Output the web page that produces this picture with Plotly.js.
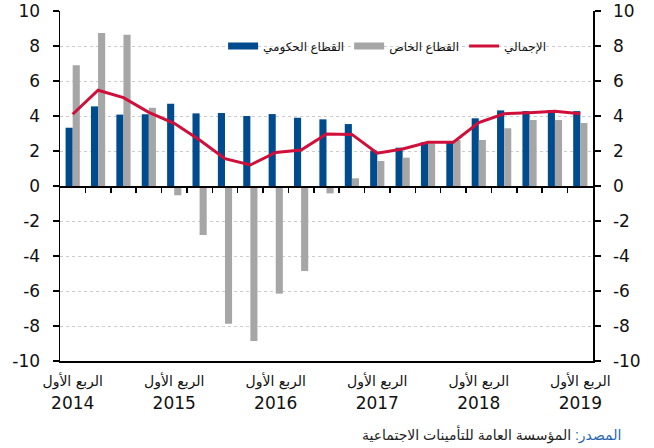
<!DOCTYPE html>
<html>
<head>
<meta charset="utf-8">
<script src="https://cdn.plot.ly/plotly-3.0.1.min.js"></script>
<style>
  html, body { margin: 0; padding: 0; background: #fff; }
  #chart { width: 654px; height: 448px; }
</style>
</head>
<body>
<div id="chart"></div>
<script>
// ---- data ----
const years = ["2014", "2015", "2016", "2017", "2018", "2019"];
const quarterNames = ["الربع الأول", "الربع الثاني", "الربع الثالث", "الربع الرابع"];
const quarters = [];
years.forEach(function (y, yi) {
  quarterNames.forEach(function (q, qi) {
    if (yi < years.length - 1 || qi === 0) quarters.push(q + " " + y);
  });
});
const government = [3.33, 4.55, 4.08, 4.10, 4.70, 4.15, 4.17, 4.00, 4.11, 3.90, 3.81, 3.54,
                    2.02, 2.19, 2.50, 2.50, 3.87, 4.32, 4.28, 4.34, 4.28];
const privateSector = [6.90, 8.74, 8.65, 4.47, -0.53, -2.80, -7.87, -8.86, -6.15, -4.86, -0.42, 0.44,
                       1.43, 1.62, 2.44, 2.63, 2.63, 3.30, 3.77, 3.77, 3.60];
const total = [4.10, 5.47, 5.05, 4.21, 3.58, 2.63, 1.56, 1.20, 1.92, 2.06, 2.97, 2.95,
               1.87, 2.11, 2.50, 2.50, 3.62, 4.13, 4.19, 4.27, 4.13];
const seriesNames = ["القطاع الحكومي", "القطاع الخاص", "الإجمالي"];
const yTickVals = [-10, -8, -6, -4, -2, 0, 2, 4, 6, 8, 10];
const yTickText = ["-10", "-8", "-6", "-4", "-2", "0", "2", "4", "6", "8", "10"];
const sourceLabel = "المصدر:";
const sourceText = "المؤسسة العامة للتأمينات الاجتماعية";

// ---- styles ----
const BLUE = "#004b8d", GRAY = "#a6a6a6", RED = "#d0103a";
const NUMFONT = "DejaVu Sans, Liberation Sans, Arial, sans-serif";
const TXTFONT = "Liberation Sans, Arial, DejaVu Sans, sans-serif";

const tickVals = quarters.filter(function (q) { return q.indexOf(quarterNames[0]) === 0; });
const tickText = tickVals.map(function (q) {
  const y = q.slice(quarterNames[0].length + 1);
  return "<span style='font-size:14px'>" + quarterNames[0] + "</span><br>" + y;
});
const boundaries = quarters.slice(1).map(function (_, i) { return i + 0.5; });

const traces = [
  { type: "bar", name: seriesNames[0], x: quarters, y: government,
    marker: { color: BLUE }, showlegend: false, hoverinfo: "skip" },
  { type: "bar", name: seriesNames[1], x: quarters, y: privateSector,
    marker: { color: GRAY }, showlegend: false, hoverinfo: "skip" },
  // legend keys (no data); also bind the overlay axes so they are drawn
  { type: "scatter", mode: "lines", name: seriesNames[0], x: [null], y: [null],
    xaxis: "x2", yaxis: "y", line: { color: BLUE, width: 7 } },
  { type: "scatter", mode: "lines", name: seriesNames[1], x: [null], y: [null],
    xaxis: "x", yaxis: "y2", line: { color: GRAY, width: 7 } },
  { type: "scatter", mode: "lines", name: seriesNames[2], x: quarters, y: total,
    line: { color: RED, width: 3 }, hoverinfo: "skip" }
];

const yCommon = {
  range: [-10, 10], tickmode: "array", tickvals: yTickVals, ticktext: yTickText,
  ticks: "outside", ticklen: 6, tickwidth: 1.5, tickcolor: "#000",
  showline: true, linecolor: "#000", linewidth: 1.5, zeroline: false,
  ticklabelstandoff: 9,
  tickfont: { size: 17, family: NUMFONT, color: "#111" }
};

const layout = {
  width: 654, height: 448,
  margin: { l: 60, r: 61, t: 11, b: 87 },
  paper_bgcolor: "#fff", plot_bgcolor: "#fff",
  font: { family: NUMFONT, color: "#111", size: 17 },
  barmode: "group", bargap: 0.44, bargroupgap: 0,
  showlegend: true,
  legend: {
    orientation: "h", x: 0.306, y: 0.9, xanchor: "left", yanchor: "middle",
    bgcolor: "rgba(0,0,0,0)", font: { size: 12, family: TXTFONT, color: "#111" },
    itemwidth: 30, traceorder: "normal"
  },
  xaxis: {
    type: "category", range: [-0.5, quarters.length - 0.5],
    tickmode: "array", tickvals: tickVals, ticktext: tickText,
    ticks: "", showgrid: false, zeroline: false,
    showline: true, linecolor: "#000", linewidth: 2,
    ticklabelstandoff: 3,
    tickfont: { size: 17, family: NUMFONT, color: "#111" }
  },
  xaxis2: {
    overlaying: "x", anchor: "free", position: 0.5,
    range: [-0.5, quarters.length - 0.5],
    tickmode: "array", tickvals: boundaries,
    ticks: "outside", ticklen: 5, tickwidth: 1.5, tickcolor: "#000",
    showticklabels: false, showgrid: false, zeroline: false,
    showline: true, linecolor: "#000", linewidth: 1.5
  },
  yaxis: Object.assign({}, yCommon, {
    showgrid: true, gridcolor: "#cccccc", griddash: "dot", gridwidth: 1
  }),
  yaxis2: Object.assign({}, yCommon, {
    overlaying: "y", side: "right", anchor: "x", showgrid: false
  }),
  annotations: [
    { xref: "paper", yref: "paper", x: 1.056, y: -0.21, xanchor: "right", yanchor: "middle",
      showarrow: false, font: { size: 14, family: TXTFONT, color: "#222" },
      text: "<span style='color:#2a66b0'>" + sourceLabel + "</span> " + sourceText }
  ]
};

Plotly.newPlot("chart", traces, layout, { displayModeBar: false, staticPlot: true });
</script>
</body>
</html>
